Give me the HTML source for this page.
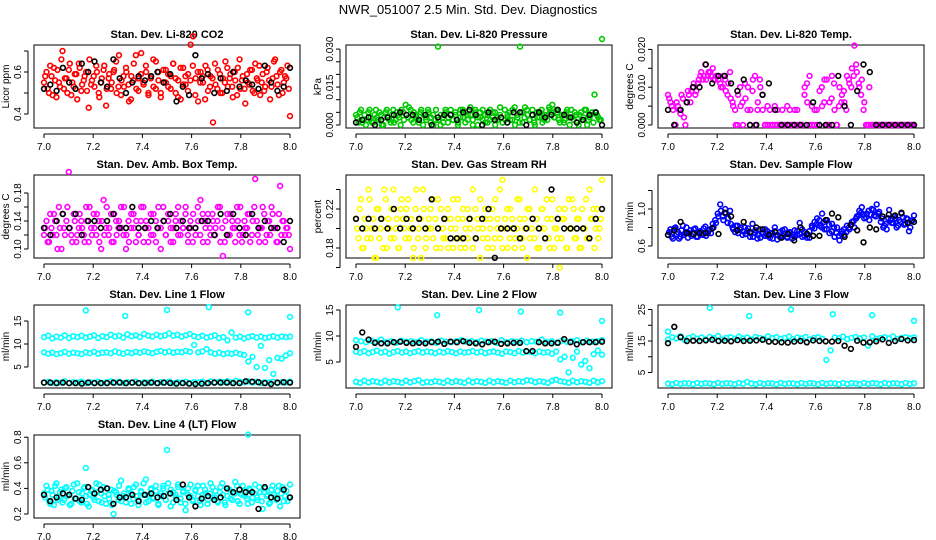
<!DOCTYPE html>
<html><head><meta charset="utf-8"><style>
body{margin:0;background:#fff;}
svg{display:block;font-family:"Liberation Sans",sans-serif;}
</style></head><body>
<svg id="chart" width="936" height="540" viewBox="0 0 936 540">
<text x="468" y="14" text-anchor="middle" font-size="13">NWR_051007  2.5 Min. Std. Dev. Diagnostics</text>
</svg>
<script>
// ---- data ----
const xTicks = [7.0, 7.2, 7.4, 7.6, 7.8, 8.0];
const xTickLabels = ["7.0", "7.2", "7.4", "7.6", "7.8", "8.0"];

const co2Red = [0.55,0.60,0.50,0.58,0.62,0.48,0.55,0.66,0.52,0.57,0.61,0.49,0.53,0.59,0.64,0.51,0.56,0.60,0.43,0.54,0.58,0.63,0.50,0.55,0.61,0.44,0.57,0.52,0.60,0.65,0.53,0.49,0.58,0.62,0.54,0.47,0.56,0.68,0.51,0.59,0.55,0.63,0.50,0.57,0.66,0.52,0.60,0.48,0.55,0.61,0.53,0.58,0.64,0.50,0.56,0.47,0.62,0.54,0.59,0.73,0.77,0.57,0.46,0.60,0.55,0.63,0.51,0.58,0.36,0.54,0.61,0.50,0.57,0.65,0.53,0.59,0.48,0.56,0.62,0.52,0.58,0.45,0.55,0.61,0.51,0.64,0.56,0.49,0.59,0.53,0.62,0.47,0.57,0.66,0.54,0.60,0.50,0.58,0.63,0.39];
const co2Red2 = [0.58,0.52,0.63,0.49,0.56,0.61,0.53,0.70,0.57,0.50,0.64,0.55,0.59,0.47,0.62,0.54,0.58,0.51,0.66,0.56,0.53,0.60,0.48,0.57,0.63,0.52,0.59,0.55,0.61,0.50,0.68,0.56,0.53,0.60,0.46,0.58,0.64,0.52,0.57,0.69,0.54,0.60,0.49,0.58,0.53,0.65,0.56,0.50,0.61,0.55,0.59,0.52,0.64,0.57,0.48,0.62,0.54,0.58,0.51,0.56,0.63,0.49,0.60,0.55,0.58,0.47,0.61,0.53,0.57,0.64,0.52,0.59,0.50,0.55,0.62,0.57,0.53,0.60,0.49,0.66,0.56,0.52,0.59,0.54,0.61,0.50,0.57,0.63,0.55,0.51,0.60,0.56,0.53,0.65,0.58,0.49,0.61,0.55,0.57,0.52];
const co2Black = [0.52,0.54,0.51,0.62,0.55,0.52,0.64,0.60,0.65,0.55,0.53,0.66,0.57,0.50,0.55,0.58,0.56,0.58,0.60,0.55,0.59,0.46,0.53,0.49,0.68,0.57,0.59,0.50,0.57,0.51,0.60,0.53,0.56,0.54,0.52,0.63,0.55,0.51,0.53,0.62];

const presGreen = [0.004,0.001,0.006,0.002,0.000,0.005,0.003,0.001,0.006,0.002,0.004,0.000,0.005,0.003,0.001,0.006,0.002,0.004,0.000,0.005,0.008,0.003,0.006,0.001,0.004,0.002,0.005,0.000,0.003,0.006,0.001,0.004,0.002,0.031,0.000,0.003,0.006,0.001,0.004,0.002,0.005,0.000,0.003,0.006,0.001,0.004,0.007,0.002,0.005,0.000,0.003,0.006,0.001,0.004,0.002,0.005,0.000,0.003,0.007,0.001,0.002,0.004,0.002,0.006,0.000,0.003,0.031,0.001,0.007,0.004,0.002,0.006,0.000,0.003,0.005,0.001,0.004,0.002,0.006,0.008,0.003,0.005,0.001,0.004,0.002,0.006,0.000,0.003,0.005,0.001,0.004,0.002,0.006,0.000,0.003,0.005,0.012,0.004,0.002,0.034];
const presGreen2 = [0.003,0.005,0.001,0.004,0.002,0.006,0.001,0.004,0.003,0.005,0.000,0.003,0.006,0.002,0.004,0.001,0.005,0.003,0.006,0.002,0.004,0.007,0.002,0.005,0.003,0.001,0.006,0.004,0.002,0.005,0.003,0.000,0.006,0.002,0.004,0.001,0.005,0.003,0.006,0.002,0.004,0.001,0.006,0.003,0.005,0.002,0.004,0.000,0.006,0.003,0.005,0.002,0.004,0.001,0.006,0.003,0.005,0.002,0.004,0.001,0.006,0.003,0.005,0.002,0.007,0.004,0.001,0.005,0.003,0.006,0.002,0.004,0.001,0.005,0.003,0.006,0.002,0.004,0.007,0.005,0.003,0.006,0.002,0.004,0.001,0.005,0.003,0.006,0.002,0.004,0.000,0.005,0.003,0.006,0.002,0.004,0.001,0.005,0.003,0.002];
const presBlack = [0.001,0.002,0.003,0.000,0.002,0.003,0.004,0.005,0.004,0.004,0.002,0.004,0.000,0.003,0.004,0.004,0.002,0.005,0.006,0.004,0.000,0.005,0.002,0.003,0.001,0.005,0.005,0.000,0.004,0.005,0.003,0.004,0.006,0.004,0.003,0.001,0.002,0.004,0.005,0.000];

const tempMagenta = [0.008,0.006,0.004,0.000,0.005,0.003,0.007,0.000,0.009,0.006,0.010,0.008,0.011,0.013,0.012,0.016,0.013,0.014,0.015,0.012,0.013,0.011,0.010,0.012,0.008,0.014,0.006,0.004,0.000,0.010,0.006,0.011,0.004,0.000,0.009,0.013,0.004,0.012,0.008,0.000,0.000,0.004,0.000,0.005,0.000,0.000,0.004,0.000,0.000,0.004,0.000,0.000,0.004,0.000,0.000,0.010,0.006,0.013,0.000,0.004,0.000,0.009,0.005,0.012,0.000,0.006,0.013,0.004,0.000,0.010,0.008,0.006,0.013,0.011,0.015,0.021,0.014,0.010,0.012,0.006,0.000,0.010,0.000,0.000,0.000,0.000,0.000,0.000,0.000,0.000,0.000,0.000,0.000,0.000,0.000,0.000,0.000,0.000,0.000,0.000];
const tempMagenta2 = [0.007,0.005,0.000,0.006,0.004,0.008,0.002,0.006,0.008,0.009,0.011,0.009,0.012,0.014,0.013,0.012,0.014,0.013,0.012,0.013,0.012,0.010,0.013,0.009,0.011,0.007,0.005,0.000,0.008,0.005,0.000,0.007,0.010,0.004,0.012,0.000,0.006,0.010,0.004,0.000,0.005,0.000,0.000,0.000,0.004,0.000,0.000,0.000,0.005,0.000,0.000,0.004,0.000,0.000,0.000,0.008,0.011,0.000,0.005,0.000,0.004,0.000,0.010,0.006,0.012,0.000,0.007,0.011,0.000,0.005,0.006,0.009,0.004,0.012,0.010,0.013,0.016,0.011,0.008,0.004,0.000,0.000,0.000,0.000,0.000,0.000,0.000,0.000,0.000,0.000,0.000,0.000,0.000,0.000,0.000,0.000,0.000,0.000,0.000,0.000];
const tempBlack = [0.004,0.000,0.004,0.006,0.010,0.010,0.016,0.011,0.013,0.013,0.011,0.009,0.012,0.000,0.000,0.008,0.011,0.004,0.000,0.000,0.000,0.000,0.000,0.006,0.000,0.000,0.000,0.013,0.005,0.000,0.009,0.016,0.014,0.000,0.000,0.000,0.000,0.000,0.000,0.000];

const ambMagenta = [0.12,0.14,0.11,0.13,0.15,0.12,0.16,0.10,0.13,0.14,0.21,0.12,0.15,0.11,0.13,0.14,0.12,0.16,0.11,0.13,0.15,0.12,0.14,0.10,0.17,0.13,0.12,0.15,0.11,0.14,0.13,0.16,0.12,0.10,0.14,0.13,0.15,0.11,0.12,0.14,0.16,0.13,0.11,0.15,0.12,0.14,0.13,0.10,0.16,0.12,0.14,0.11,0.13,0.15,0.12,0.14,0.13,0.16,0.11,0.13,0.15,0.12,0.14,0.17,0.11,0.13,0.15,0.12,0.14,0.13,0.16,0.11,0.09,0.14,0.12,0.15,0.13,0.11,0.14,0.16,0.12,0.13,0.15,0.11,0.14,0.20,0.12,0.13,0.16,0.11,0.14,0.12,0.15,0.13,0.11,0.19,0.14,0.12,0.13,0.10];
const ambMagenta2 = [0.13,0.11,0.15,0.12,0.14,0.10,0.13,0.15,0.12,0.16,0.13,0.11,0.14,0.12,0.15,0.13,0.11,0.14,0.16,0.12,0.13,0.15,0.11,0.14,0.12,0.16,0.13,0.11,0.15,0.12,0.14,0.13,0.16,0.12,0.11,0.15,0.13,0.14,0.12,0.16,0.11,0.14,0.13,0.12,0.15,0.11,0.16,0.13,0.14,0.12,0.15,0.13,0.11,0.14,0.16,0.12,0.13,0.15,0.12,0.14,0.11,0.13,0.16,0.12,0.15,0.14,0.11,0.13,0.15,0.12,0.14,0.16,0.13,0.11,0.15,0.12,0.14,0.13,0.16,0.12,0.11,0.14,0.13,0.15,0.12,0.16,0.14,0.11,0.13,0.15,0.12,0.14,0.16,0.13,0.11,0.15,0.12,0.14,0.13,0.12];
const ambBlack = [0.13,0.12,0.14,0.15,0.13,0.15,0.12,0.14,0.14,0.13,0.14,0.15,0.13,0.13,0.16,0.13,0.13,0.14,0.13,0.14,0.15,0.13,0.14,0.13,0.13,0.14,0.14,0.12,0.15,0.12,0.15,0.13,0.12,0.15,0.13,0.14,0.13,0.13,0.11,0.14];

const rhYellow = [0.21,0.19,0.23,0.18,0.20,0.24,0.19,0.21,0.17,0.22,0.20,0.18,0.23,0.21,0.19,0.24,0.20,0.18,0.22,0.21,0.19,0.23,0.20,0.17,0.22,0.19,0.21,0.24,0.18,0.20,0.22,0.19,0.21,0.23,0.18,0.20,0.19,0.22,0.21,0.18,0.20,0.23,0.19,0.21,0.18,0.22,0.20,0.24,0.19,0.21,0.17,0.20,0.22,0.19,0.21,0.18,0.23,0.20,0.19,0.25,0.21,0.18,0.22,0.20,0.19,0.23,0.21,0.18,0.20,0.22,0.19,0.21,0.24,0.18,0.20,0.22,0.19,0.21,0.18,0.23,0.20,0.19,0.16,0.21,0.22,0.18,0.20,0.23,0.19,0.21,0.18,0.22,0.20,0.19,0.24,0.21,0.18,0.22,0.20,0.25];
const rhYellow2 = [0.20,0.22,0.18,0.21,0.19,0.23,0.20,0.17,0.22,0.19,0.21,0.24,0.18,0.20,0.22,0.19,0.21,0.18,0.23,0.20,0.22,0.19,0.21,0.18,0.24,0.20,0.17,0.22,0.19,0.21,0.20,0.23,0.18,0.20,0.22,0.19,0.21,0.18,0.20,0.23,0.19,0.21,0.18,0.22,0.20,0.19,0.21,0.18,0.22,0.20,0.23,0.19,0.21,0.18,0.20,0.22,0.19,0.21,0.24,0.18,0.20,0.22,0.19,0.21,0.18,0.20,0.23,0.19,0.21,0.17,0.22,0.20,0.19,0.21,0.18,0.22,0.20,0.23,0.19,0.21,0.18,0.20,0.22,0.19,0.21,0.18,0.23,0.20,0.22,0.19,0.21,0.18,0.20,0.23,0.19,0.21,0.22,0.20,0.19,0.21];
const rhBlack = [0.21,0.20,0.21,0.20,0.21,0.20,0.22,0.20,0.21,0.20,0.21,0.20,0.23,0.20,0.21,0.19,0.19,0.19,0.21,0.19,0.21,0.22,0.17,0.20,0.20,0.20,0.19,0.20,0.21,0.20,0.19,0.24,0.21,0.20,0.20,0.20,0.20,0.19,0.21,0.22];

const flowBlue = [0.72,0.78,0.68,0.80,0.75,0.70,0.82,0.74,0.69,0.77,0.73,0.79,0.70,0.76,0.72,0.81,0.74,0.78,0.84,0.88,0.95,1.05,0.92,1.00,0.85,0.98,0.80,0.75,0.82,0.78,0.72,0.80,0.76,0.70,0.84,0.74,0.68,0.78,0.73,0.71,0.76,0.69,0.74,0.80,0.67,0.75,0.71,0.78,0.70,0.74,0.68,0.77,0.72,0.85,0.70,0.75,0.73,0.69,0.80,0.86,0.90,0.82,0.95,0.78,0.88,0.74,0.84,0.70,0.80,0.66,0.76,0.72,0.82,0.78,0.86,0.80,0.92,0.98,1.02,0.90,0.95,0.88,1.00,0.93,1.05,0.97,0.90,0.82,0.78,0.99,0.85,0.92,0.80,0.88,0.95,0.83,0.90,0.76,0.87,0.93];
const flowBlue2 = [0.75,0.70,0.79,0.73,0.68,0.77,0.72,0.80,0.74,0.71,0.78,0.70,0.75,0.73,0.79,0.71,0.77,0.74,0.80,0.85,0.92,0.98,0.88,0.95,0.90,0.84,0.78,0.82,0.74,0.80,0.76,0.73,0.79,0.74,0.70,0.77,0.72,0.69,0.75,0.78,0.71,0.74,0.68,0.76,0.72,0.70,0.77,0.73,0.69,0.75,0.72,0.70,0.76,0.73,0.78,0.71,0.69,0.76,0.82,0.79,0.84,0.88,0.80,0.86,0.78,0.83,0.76,0.80,0.74,0.71,0.73,0.78,0.75,0.80,0.83,0.87,0.90,0.93,0.96,0.94,0.91,0.98,0.94,0.99,0.92,0.95,0.86,0.80,0.84,0.90,0.88,0.85,0.90,0.82,0.86,0.91,0.84,0.89,0.80,0.88];
const flowBlack = [0.72,0.77,0.86,0.74,0.73,0.74,0.74,0.79,0.73,0.96,0.92,0.77,0.86,0.75,0.80,0.78,0.72,0.75,0.69,0.73,0.66,0.80,0.73,0.71,0.71,0.88,0.95,0.91,0.70,0.83,0.77,0.64,0.80,0.78,0.92,0.94,0.93,0.96,0.85,0.86];

const l1Upper = [11.5,11.8,11.2,11.6,11.4,11.9,11.3,11.7,11.5,11.8,11.4,11.6,11.9,11.3,11.7,11.5,12.0,11.6,11.8,11.4,12.1,11.7,11.9,11.5,12.2,11.8,11.6,12.0,11.7,11.9,12.3,11.8,12.0,11.6,11.9,12.2,11.7,11.5,11.8,11.4,11.6,11.9,11.3,11.5,10.8,12.5,11.4,11.6,11.2,11.5,11.7,11.4,11.6,11.3,11.5,11.7,11.4,11.6,11.5,11.6];
const l1Middle = [8.2,7.9,8.1,7.8,8.0,8.3,7.9,8.1,8.0,7.8,8.2,8.0,8.3,7.9,8.1,8.2,8.0,8.4,8.1,7.9,8.2,8.0,8.3,8.1,8.4,8.2,8.0,8.3,8.5,8.2,8.4,8.1,8.3,8.2,8.5,8.3,9.8,8.2,8.4,8.9,8.2,7.9,8.1,7.8,8.0,7.9,8.1,7.8,7.6,6.2,7.2,5.0,9.6,4.8,6.5,3.5,7.0,6.8,7.5,8.0];
const l1Lower = [1.6,1.8,1.5,1.7,1.6,1.9,1.5,1.7,1.6,1.8,1.5,1.7,1.6,1.8,1.5,1.7,1.9,1.6,1.8,1.5,1.7,1.6,1.8,1.5,1.7,1.6,1.8,1.5,1.7,1.6,1.8,1.5,1.7,1.6,1.8,1.5,1.7,1.6,1.8,1.5,1.9,1.6,1.8,1.7,1.9,1.6,2.0,1.8,1.7,1.9,1.6,1.8,1.5,1.7,1.6,1.8,1.5,1.7,1.6,1.8];
const l1OutX = [7.17,7.33,7.5,7.67,7.83,8.0];
const l1OutY = [17.3,16.1,17.4,18.0,16.9,15.9];
const l1Black = [1.6,1.6,1.5,1.6,1.5,1.5,1.4,1.6,1.5,1.5,1.5,1.6,1.6,1.5,1.6,1.5,1.5,1.6,1.5,1.6,1.5,1.4,1.5,1.4,1.3,1.4,1.5,1.6,1.6,1.6,1.5,1.5,1.9,1.8,1.7,1.5,1.3,1.6,1.7,1.6];

const l2Upper = [9.2,9.0,8.8,9.1,8.9,9.3,8.8,9.0,8.7,9.1,8.9,9.0,8.8,9.2,8.9,9.0,8.7,9.1,8.9,8.8,9.0,9.2,8.9,9.0,8.8,9.1,8.9,9.0,8.7,9.2,8.8,9.0,8.9,9.1,8.8,9.0,8.9,9.3,8.8,9.0,8.7,9.1,8.9,9.0,9.2,8.8,9.1,8.9,9.0,9.2];
const l2Middle = [7.0,6.8,7.1,6.7,6.9,7.2,6.8,7.0,6.6,6.9,7.1,6.8,7.0,6.7,6.9,7.1,6.8,7.0,6.9,6.7,7.0,6.8,7.1,6.9,6.7,7.0,6.8,6.9,7.1,6.8,7.0,6.7,6.9,7.0,6.8,6.6,7.0,6.9,6.7,7.1,6.8,7.0,6.9,6.7,7.0,6.8,6.9,6.6,7.0,5.5,6.0,3.0,5.8,7.0,4.5,5.2,3.8,6.5,7.2,6.4];
const l2Lower = [1.2,1.0,1.4,1.1,1.3,1.2,1.0,1.4,1.1,1.3,1.2,1.0,1.4,1.1,1.3,1.5,1.0,1.2,1.1,1.3,1.2,1.0,1.4,1.1,1.3,1.2,1.0,1.4,1.1,1.3,1.2,1.0,1.4,1.1,1.3,1.2,1.0,1.4,1.1,1.3,1.2,1.5,1.4,1.1,1.3,1.2,1.0,1.4,1.6,1.3,1.2,1.0,1.4,1.1,1.3,1.2,1.0,1.4,1.1,1.3];
const l2OutX = [7.17,7.33,7.5,7.67,7.83,8.0];
const l2OutY = [15.5,14.0,15.0,14.7,14.5,12.9];
const l2Black = [7.9,10.7,9.3,8.7,8.6,8.6,8.8,8.9,8.7,8.6,8.7,8.6,8.8,8.9,8.5,8.9,8.8,9.0,8.7,8.6,8.4,8.8,8.9,8.5,8.6,8.7,8.7,7.1,7.1,8.8,8.6,8.6,8.7,9.4,8.8,8.4,8.8,8.8,8.8,8.9];

const l3Upper = [15.5,16.2,15.8,16.5,15.3,16.0,16.4,15.7,16.1,15.5,16.3,15.9,16.6,15.4,16.0,16.2,15.7,16.4,15.8,16.1,15.5,16.3,16.0,15.6,16.5,15.9,16.2,15.7,16.0,16.4,15.6,16.1,15.8,16.3,15.5,16.0,16.2,15.7,9.0,12.0,16.1,15.9,16.4,15.6,16.0,16.3,15.8,16.1,13.5,16.5,15.7,16.0,16.2,15.8,16.4,15.6,16.0,16.2,15.9,16.1];
const l3Lower = [1.5,1.3,1.7,1.4,1.6,1.5,1.3,1.7,1.4,1.6,1.5,1.3,1.7,1.4,1.6,1.5,1.3,1.7,1.4,2.0,1.5,1.3,1.7,1.4,1.6,1.5,1.3,1.7,1.4,1.6,1.5,1.3,1.7,1.4,1.6,1.5,1.3,1.7,1.4,1.6,1.5,1.3,1.7,1.4,1.6,1.5,1.3,1.7,1.4,1.6,1.5,1.3,1.7,1.4,1.6,1.5,1.3,1.7,1.4,1.6];
const l3OutX = [7.0,7.17,7.33,7.5,7.67,7.83,8.0];
const l3OutY = [18.0,25.5,22.9,25.0,23.5,23.2,21.4];
const l3Black = [14.3,19.5,16.2,15.0,15.1,15.0,15.2,15.4,15.0,15.1,14.9,15.3,15.0,15.1,15.2,15.4,14.8,14.7,14.6,14.5,14.8,15.0,14.6,15.2,15.0,14.9,14.8,15.0,13.5,12.5,15.1,14.5,14.6,14.9,15.5,14.4,15.0,15.6,15.2,15.3];

const l4Cyan = [0.36,0.42,0.30,0.38,0.27,0.44,0.33,0.39,0.31,0.41,0.35,0.28,0.43,0.32,0.37,0.29,0.40,0.34,0.26,0.38,0.33,0.44,0.30,0.36,0.41,0.28,0.35,0.39,0.20,0.37,0.31,0.46,0.34,0.29,0.40,0.36,0.32,0.43,0.27,0.38,0.35,0.47,0.30,0.39,0.33,0.42,0.28,0.36,0.40,0.31,0.44,0.26,0.37,0.33,0.41,0.29,0.38,0.23,0.35,0.43,0.30,0.39,0.34,0.27,0.42,0.36,0.31,0.44,0.33,0.38,0.29,0.41,0.35,0.27,0.40,0.32,0.37,0.45,0.30,0.36,0.42,0.34,0.28,0.39,0.33,0.43,0.31,0.37,0.24,0.40,0.35,0.29,0.42,0.33,0.38,0.26,0.41,0.34,0.30,0.43];
const l4Cyan2 = [0.33,0.39,0.28,0.35,0.42,0.31,0.37,0.29,0.40,0.34,0.27,0.38,0.32,0.44,0.30,0.36,0.41,0.28,0.35,0.39,0.31,0.37,0.43,0.29,0.34,0.40,0.32,0.27,0.38,0.35,0.42,0.30,0.36,0.33,0.39,0.28,0.41,0.34,0.31,0.37,0.44,0.29,0.35,0.40,0.32,0.38,0.27,0.34,0.42,0.31,0.36,0.39,0.29,0.35,0.43,0.32,0.37,0.28,0.40,0.34,0.31,0.38,0.42,0.30,0.35,0.39,0.28,0.36,0.41,0.33,0.30,0.37,0.44,0.29,0.34,0.39,0.31,0.36,0.42,0.28,0.35,0.38,0.32,0.40,0.29,0.36,0.33,0.41,0.30,0.37,0.34,0.28,0.39,0.35,0.31,0.42,0.36,0.30,0.38,0.33];
const l4OutX = [7.17,7.5,7.83];
const l4OutY = [0.56,0.70,0.82];
const l4Black = [0.35,0.30,0.33,0.36,0.35,0.32,0.31,0.41,0.36,0.39,0.40,0.28,0.33,0.33,0.35,0.30,0.35,0.36,0.33,0.34,0.36,0.31,0.43,0.33,0.26,0.32,0.34,0.31,0.33,0.40,0.37,0.39,0.37,0.37,0.24,0.41,0.33,0.32,0.39,0.33];

// ---- layout ----
const NS = "http://www.w3.org/2000/svg";
const svg = document.getElementById('chart');
function mk(tag, attrs, parent){const e=document.createElementNS(NS,tag);for(const k in attrs)e.setAttribute(k,attrs[k]);(parent||svg).appendChild(e);return e;}

const panels = [
 {name:'co2', title:'Stan. Dev. Li-820 CO2', ylab:'Licor ppm', col:0,row:0, y0:0.4,p0:114,k:210, ticks:[0.4,0.5,0.6,0.7], labels:{"0.4":"0.4","0.6":"0.6"},
  series:[{y:co2Red,c:'#ff0000'},{y:co2Red2,c:'#ff0000',half:true},{y:co2Black,c:'#000'}]},
 {name:'pressure', title:'Stan. Dev. Li-820 Pressure', ylab:'kPa', col:1,row:0, y0:0,p0:125,k:2530, ticks:[0,0.005,0.01,0.015,0.02,0.025,0.03], labels:{"0":"0.000","0.015":"0.015","0.03":"0.030"},
  series:[{y:presGreen,c:'#00c800'},{y:presGreen2,c:'#00c800',half:true},{y:presBlack,c:'#000'}]},
 {name:'temp', title:'Stan. Dev. Li-820 Temp.', ylab:'degrees C', col:2,row:0, y0:0,p0:125,k:3780, ticks:[0,0.005,0.01,0.015,0.02], labels:{"0":"0.000","0.01":"0.010","0.02":"0.020"},
  series:[{y:tempMagenta,c:'#ff00ff'},{y:tempMagenta2,c:'#ff00ff',half:true},{y:tempBlack,c:'#000'}]},
 {name:'amb-box-temp', title:'Stan. Dev. Amb. Box Temp.', ylab:'degrees C', col:0,row:1, y0:0.10,p0:249,k:700, ticks:[0.10,0.12,0.14,0.16,0.18], labels:{"0.1":"0.10","0.14":"0.14","0.18":"0.18"},
  series:[{y:ambMagenta,c:'#ff00ff'},{y:ambMagenta2,c:'#ff00ff',half:true},{y:ambBlack,c:'#000'}]},
 {name:'gas-stream-rh', title:'Stan. Dev. Gas Stream RH', ylab:'percent', col:1,row:1, y0:0.18,p0:248,k:975, ticks:[0.16,0.18,0.20,0.22,0.24], labels:{"0.18":"0.18","0.22":"0.22"},
  series:[{y:rhYellow,c:'#ffff00'},{y:rhYellow2,c:'#ffff00',half:true},{y:rhBlack,c:'#000'}]},
 {name:'sample-flow', title:'Stan. Dev. Sample Flow', ylab:'ml/min', col:2,row:1, y0:0.6,p0:246,k:92.5, ticks:[0.6,0.8,1.0,1.2], labels:{"0.6":"0.6","1":"1.0"},
  series:[{y:flowBlue,c:'#0000ff'},{y:flowBlue2,c:'#0000ff',half:true},{y:flowBlack,c:'#000'}]},
 {name:'line1-flow', title:'Stan. Dev. Line 1 Flow', ylab:'ml/min', col:0,row:2, y0:10,p0:344,k:4.6, ticks:[5,10,15], labels:{"5":"5","10":"10","15":"15"},
  series:[{y:l1Upper,c:'#00ffff'},{y:l1Middle,c:'#00ffff'},{y:l1Lower,c:'#00ffff'},{x:l1OutX,y:l1OutY,c:'#00ffff'},{y:l1Black,c:'#000'}]},
 {name:'line2-flow', title:'Stan. Dev. Line 2 Flow', ylab:'ml/min', col:1,row:2, y0:10,p0:336,k:5.2, ticks:[5,10,15], labels:{"5":"5","10":"10","15":"15"},
  series:[{y:l2Upper,c:'#00ffff'},{y:l2Middle,c:'#00ffff'},{y:l2Lower,c:'#00ffff'},{x:l2OutX,y:l2OutY,c:'#00ffff'},{y:l2Black,c:'#000'}]},
 {name:'line3-flow', title:'Stan. Dev. Line 3 Flow', ylab:'ml/min', col:2,row:2, y0:15,p0:341,k:3.15, ticks:[5,10,15,20,25], labels:{"5":"5","15":"15","25":"25"},
  series:[{y:l3Upper,c:'#00ffff'},{y:l3Lower,c:'#00ffff'},{x:l3OutX,y:l3OutY,c:'#00ffff'},{y:l3Black,c:'#000'}]},
 {name:'line4-flow', title:'Stan. Dev. Line 4 (LT) Flow', ylab:'ml/min', col:0,row:3, y0:0.2,p0:514,k:128, ticks:[0.2,0.4,0.6,0.8], labels:{"0.2":"0.2","0.4":"0.4","0.6":"0.6","0.8":"0.8"},
  series:[{y:l4Cyan,c:'#00ffff'},{y:l4Cyan2,c:'#00ffff',half:true},{x:l4OutX,y:l4OutY,c:'#00ffff'},{y:l4Black,c:'#000'}]},
];

panels.forEach(p=>{
  const ox = p.col*312, oy = p.row*130;
  const bx = 34+ox, by = 45+oy, bw = 266, bh = 83;
  const xs = v => 44+ox + (v-7.0)*246;
  const ys = v => p.p0 - (v-p.y0)*p.k;
  const g = mk('g',{});
  
  
  const t = mk('text',{x:bx+bw/2,y:by-7,'text-anchor':'middle','font-size':'11','font-weight':'bold'},g);
  t.textContent = p.title;
  
  
  const box = mk('rect',{x:bx,y:by,width:bw,height:bh,fill:'none',stroke:'#000','stroke-width':1},g);
  
  
  const xa = mk('g',{},g);
  
  
  mk('line',{x1:xs(7.0),x2:xs(8.0),y1:by+bh+6,y2:by+bh+6,stroke:'#000'},xa);
  xTicks.forEach((v,i)=>{
    mk('line',{x1:xs(v),x2:xs(v),y1:by+bh+6,y2:by+bh+10,stroke:'#000'},xa);
    const tl = mk('text',{x:xs(v),y:by+bh+22,'text-anchor':'middle','font-size':'10'},xa);
    tl.textContent = xTickLabels[i];
    
    
  });
  const ya = mk('g',{},g);
  
  
  const yt = p.ticks.map(ys);
  mk('line',{x1:bx-6,x2:bx-6,y1:Math.min(...yt),y2:Math.max(...yt),stroke:'#000'},ya);
  p.ticks.forEach(v=>{
    const py = ys(v);
    mk('line',{x1:bx-10,x2:bx-6,y1:py,y2:py,stroke:'#000'},ya);
    const key = String(+v.toFixed(4));
    if(p.labels[key]!==undefined){
      const tl = mk('text',{x:bx-13,y:py,'text-anchor':'middle','font-size':'10',transform:`rotate(-90 ${bx-13} ${py})`},ya);
      tl.textContent = p.labels[key];
      
      
    }
  });
  const yl = mk('text',{x:bx-25,y:by+bh/2,'text-anchor':'middle','font-size':'10',transform:`rotate(-90 ${bx-25} ${by+bh/2})`},g);
  yl.textContent = p.ylab;
  
  
  p.series.forEach((s,si)=>{
    const sg = mk('g',{fill:'none',stroke:s.c,'stroke-width':1.6},g);
    
    
    const n = s.y.length;
    s.y.forEach((v,i)=>{
      const xv = s.x ? s.x[i] : (s.half ? 7.0 + (i+0.5)/n : 7.0 + i/(n-1));
      const c = mk('circle',{cx:xs(xv).toFixed(1),cy:ys(v).toFixed(1),r:2.4},sg);
      
      
    });
  });
});
</script>
</body></html>
